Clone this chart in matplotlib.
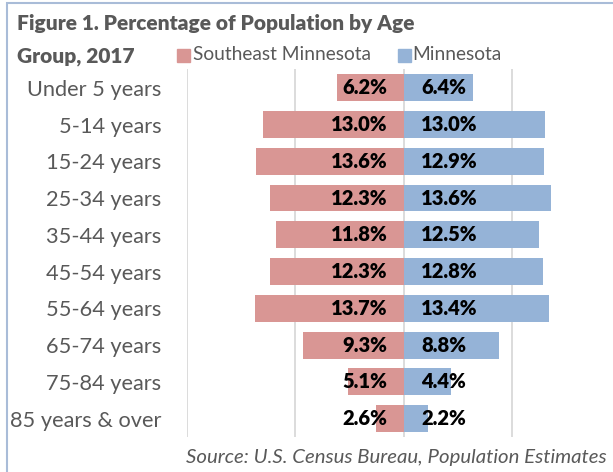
import matplotlib.pyplot as plt
from matplotlib.patches import Rectangle
import numpy as np

plt.rcParams['font.family'] = ['Lato', 'DejaVu Sans']

age_groups = ["Under 5 years", "5-14 years", "15-24 years", "25-34 years", "35-44 years",
              "45-54 years", "55-64 years", "65-74 years", "75-84 years", "85 years & over"]
se_minnesota = [6.2, 13.0, 13.6, 12.3, 11.8, 12.3, 13.7, 9.3, 5.1, 2.6]
minnesota = [6.4, 13.0, 12.9, 13.6, 12.5, 12.8, 13.4, 8.8, 4.4, 2.2]

pink = "#D99694"
blue = "#95B3D7"
gray = "#595959"

fig = plt.figure(figsize=(6.13, 4.72), dpi=100)
ax = fig.add_axes([0.305, 0.074, 0.672, 0.779])

y = np.arange(len(age_groups))
ax.barh(y, [-v for v in se_minnesota], height=0.73, color=pink, zorder=2)
ax.barh(y, minnesota, height=0.73, color=blue, zorder=2)

for yi, s, m in zip(y, se_minnesota, minnesota):
    ax.text(-1.5, yi, f"{s:.1f}%", ha="right", va="center", fontsize=14.5,
            fontweight="heavy", color="black", zorder=3)
    ax.text(1.6, yi, f"{m:.1f}%", ha="left", va="center", fontsize=14.5,
            fontweight="heavy", color="black", zorder=3)

ax.set_xlim(-20, 18)
ax.set_ylim(len(age_groups) - 0.5, -0.5)
ax.set_xticks([-20, -10, 0, 10])
ax.xaxis.grid(True, color="#D9D9D9", lw=1.3, zorder=0)
ax.tick_params(axis="x", bottom=False, labelbottom=False)
ax.set_yticks(y)
ax.set_yticklabels(age_groups, fontsize=15.7, color=gray)
ax.tick_params(axis="y", left=False, pad=15)
for sp in ax.spines.values():
    sp.set_visible(False)

# title, two lines
fig.text(0.028, 1 - 30 / 472, "Figure 1. Percentage of Population by Age",
         ha="left", va="baseline", fontsize=15.0, fontweight="heavy", color=gray)
fig.text(0.028, 1 - 63 / 472, "Group, 2017",
         ha="left", va="baseline", fontsize=15.0, fontweight="heavy", color=gray)

# legend
fig.patches.append(Rectangle((177 / 613, 1 - 62 / 472), 13 / 613, 13 / 472,
                             transform=fig.transFigure, color=pink))
fig.text(193 / 613, 1 - 55 / 472, "Southeast Minnesota", ha="left", va="center",
         fontsize=13.8, color=gray)
fig.patches.append(Rectangle((398 / 613, 1 - 62 / 472), 13 / 613, 13 / 472,
                             transform=fig.transFigure, color=blue))
fig.text(412 / 613, 1 - 55 / 472, "Minnesota", ha="left", va="center",
         fontsize=13.8, color=gray)

fig.text(607 / 613, 1 - 458 / 472, "Source: U.S. Census Bureau, Population Estimates",
         ha="right", va="center", fontsize=14.7, style="italic", color=gray)

fig.patches.append(Rectangle((0.012, -0.05), 1.2, 1.043, transform=fig.transFigure,
                             fill=False, edgecolor="#A9BCD8", lw=1.5))

fig.savefig("out.png", dpi=100)
